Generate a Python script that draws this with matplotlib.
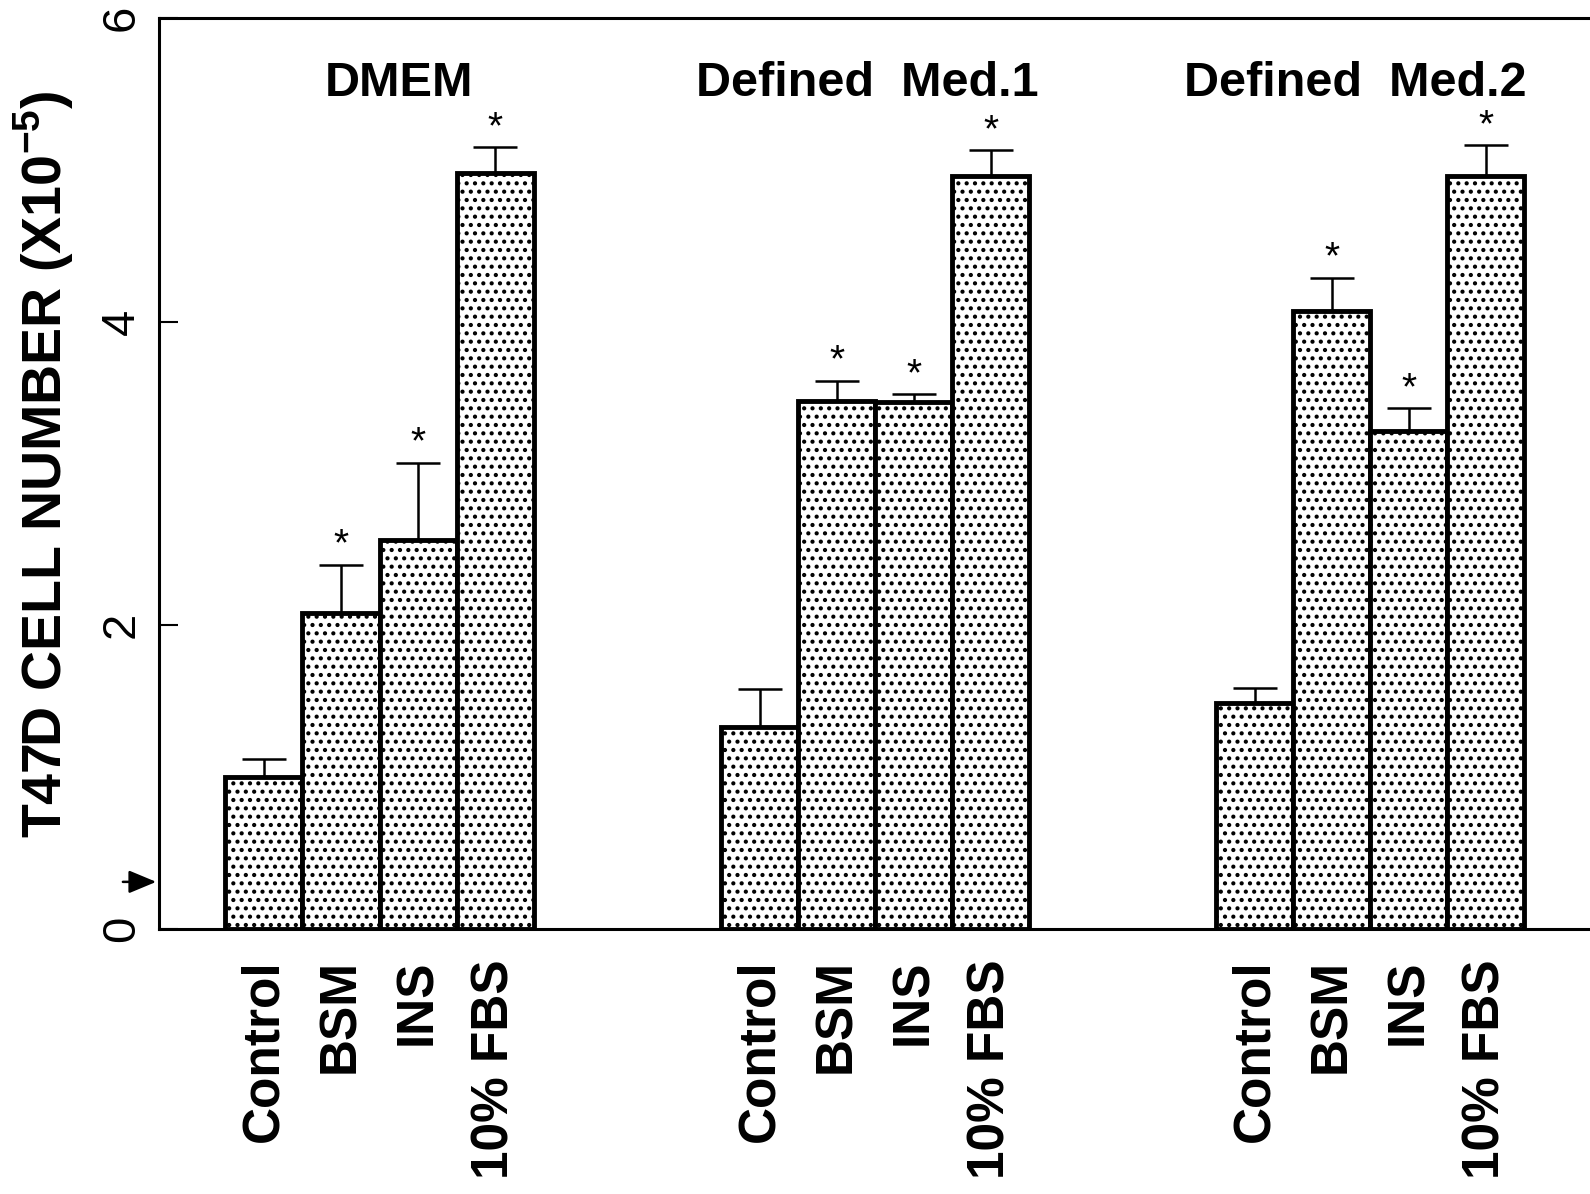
import numpy as np
from matplotlib import pyplot as plt

plt.rcParams['font.family'] = ['Liberation Sans', 'DejaVu Sans']
plt.rcParams['hatch.linewidth'] = 1.8

# values (cells x 10^-5)
treatments = ["Control", "BSM", "INS", "10% FBS"]
media = ["DMEM", "Defined  Med.1", "Defined  Med.2"]
dmem = [1.00, 2.08, 2.56, 4.98]
dmem_err = [0.12, 0.32, 0.51, 0.17]
med1 = [1.33, 3.48, 3.47, 4.96]
med1_err = [0.25, 0.13, 0.05, 0.17]
med2 = [1.49, 4.07, 3.28, 4.96]
med2_err = [0.10, 0.22, 0.15, 0.20]
signif = [False, True, True, True]

fig = plt.figure(figsize=(15.9, 11.94), dpi=100)
ax = fig.add_axes([0.100, 0.222, 0.900, 0.763])

groupStart = [0.0, 6.43, 12.85]
titleShift = [1.75, 1.4, 1.3]
allX = []
allLabels = []
for g, (vals, errs) in enumerate([(dmem, dmem_err), (med1, med1_err), (med2, med2_err)]):
    x = groupStart[g] + np.arange(len(treatments))
    ax.bar(x, vals, width=1.0, facecolor='white', edgecolor='black',
           linewidth=3.5, hatch='..', zorder=3)
    ax.errorbar(x, vals, yerr=[np.zeros(len(errs)), errs], fmt='none',
                ecolor='black', elinewidth=1.8, capsize=16, capthick=1.8, zorder=2)
    for xi, v, e, s in zip(x, vals, errs, signif):
        if s:
            ax.text(xi, v + e + 0.06, '*', ha='center', va='baseline', fontsize=28)
    ax.text(groupStart[g] + titleShift[g], 5.57, media[g], ha='center', va='center',
            fontsize=35, fontweight='bold')
    allX.extend(x)
    allLabels.extend(treatments)

ax.set_xlim(-1.36, 17.2)
ax.set_ylim(0, 6)
ax.set_xticks(allX)
ax.set_xticklabels(allLabels, rotation=90, fontsize=37, fontweight='bold', va='top')
ax.tick_params(axis='x', length=0, pad=22)
ax.set_yticks([0, 2, 4, 6])
ax.set_yticklabels(['0', '2', '4', '6'], rotation=90, va='center', fontsize=34)
ax.tick_params(axis='y', direction='in', length=14, width=1.5, pad=11)

ax.set_ylabel(r"T47D CELL NUMBER (X10$^{\mathregular{-5}}$)", fontsize=40,
              fontweight='bold')
ax.yaxis.set_label_coords(-0.058, 0.51)

for side in ['left', 'top', 'bottom']:
    ax.spines[side].set_linewidth(2.2)
ax.spines['right'].set_visible(False)

# arrow marking the seeding density near zero
ax.annotate('', xy=(0, 0.31), xycoords=('axes fraction', 'data'),
            xytext=(-28, 0), textcoords='offset points',
            arrowprops=dict(arrowstyle='-|>,head_length=0.6,head_width=0.25',
                            color='black', lw=1.8, mutation_scale=28))

fig.savefig('out.png', dpi=100)
